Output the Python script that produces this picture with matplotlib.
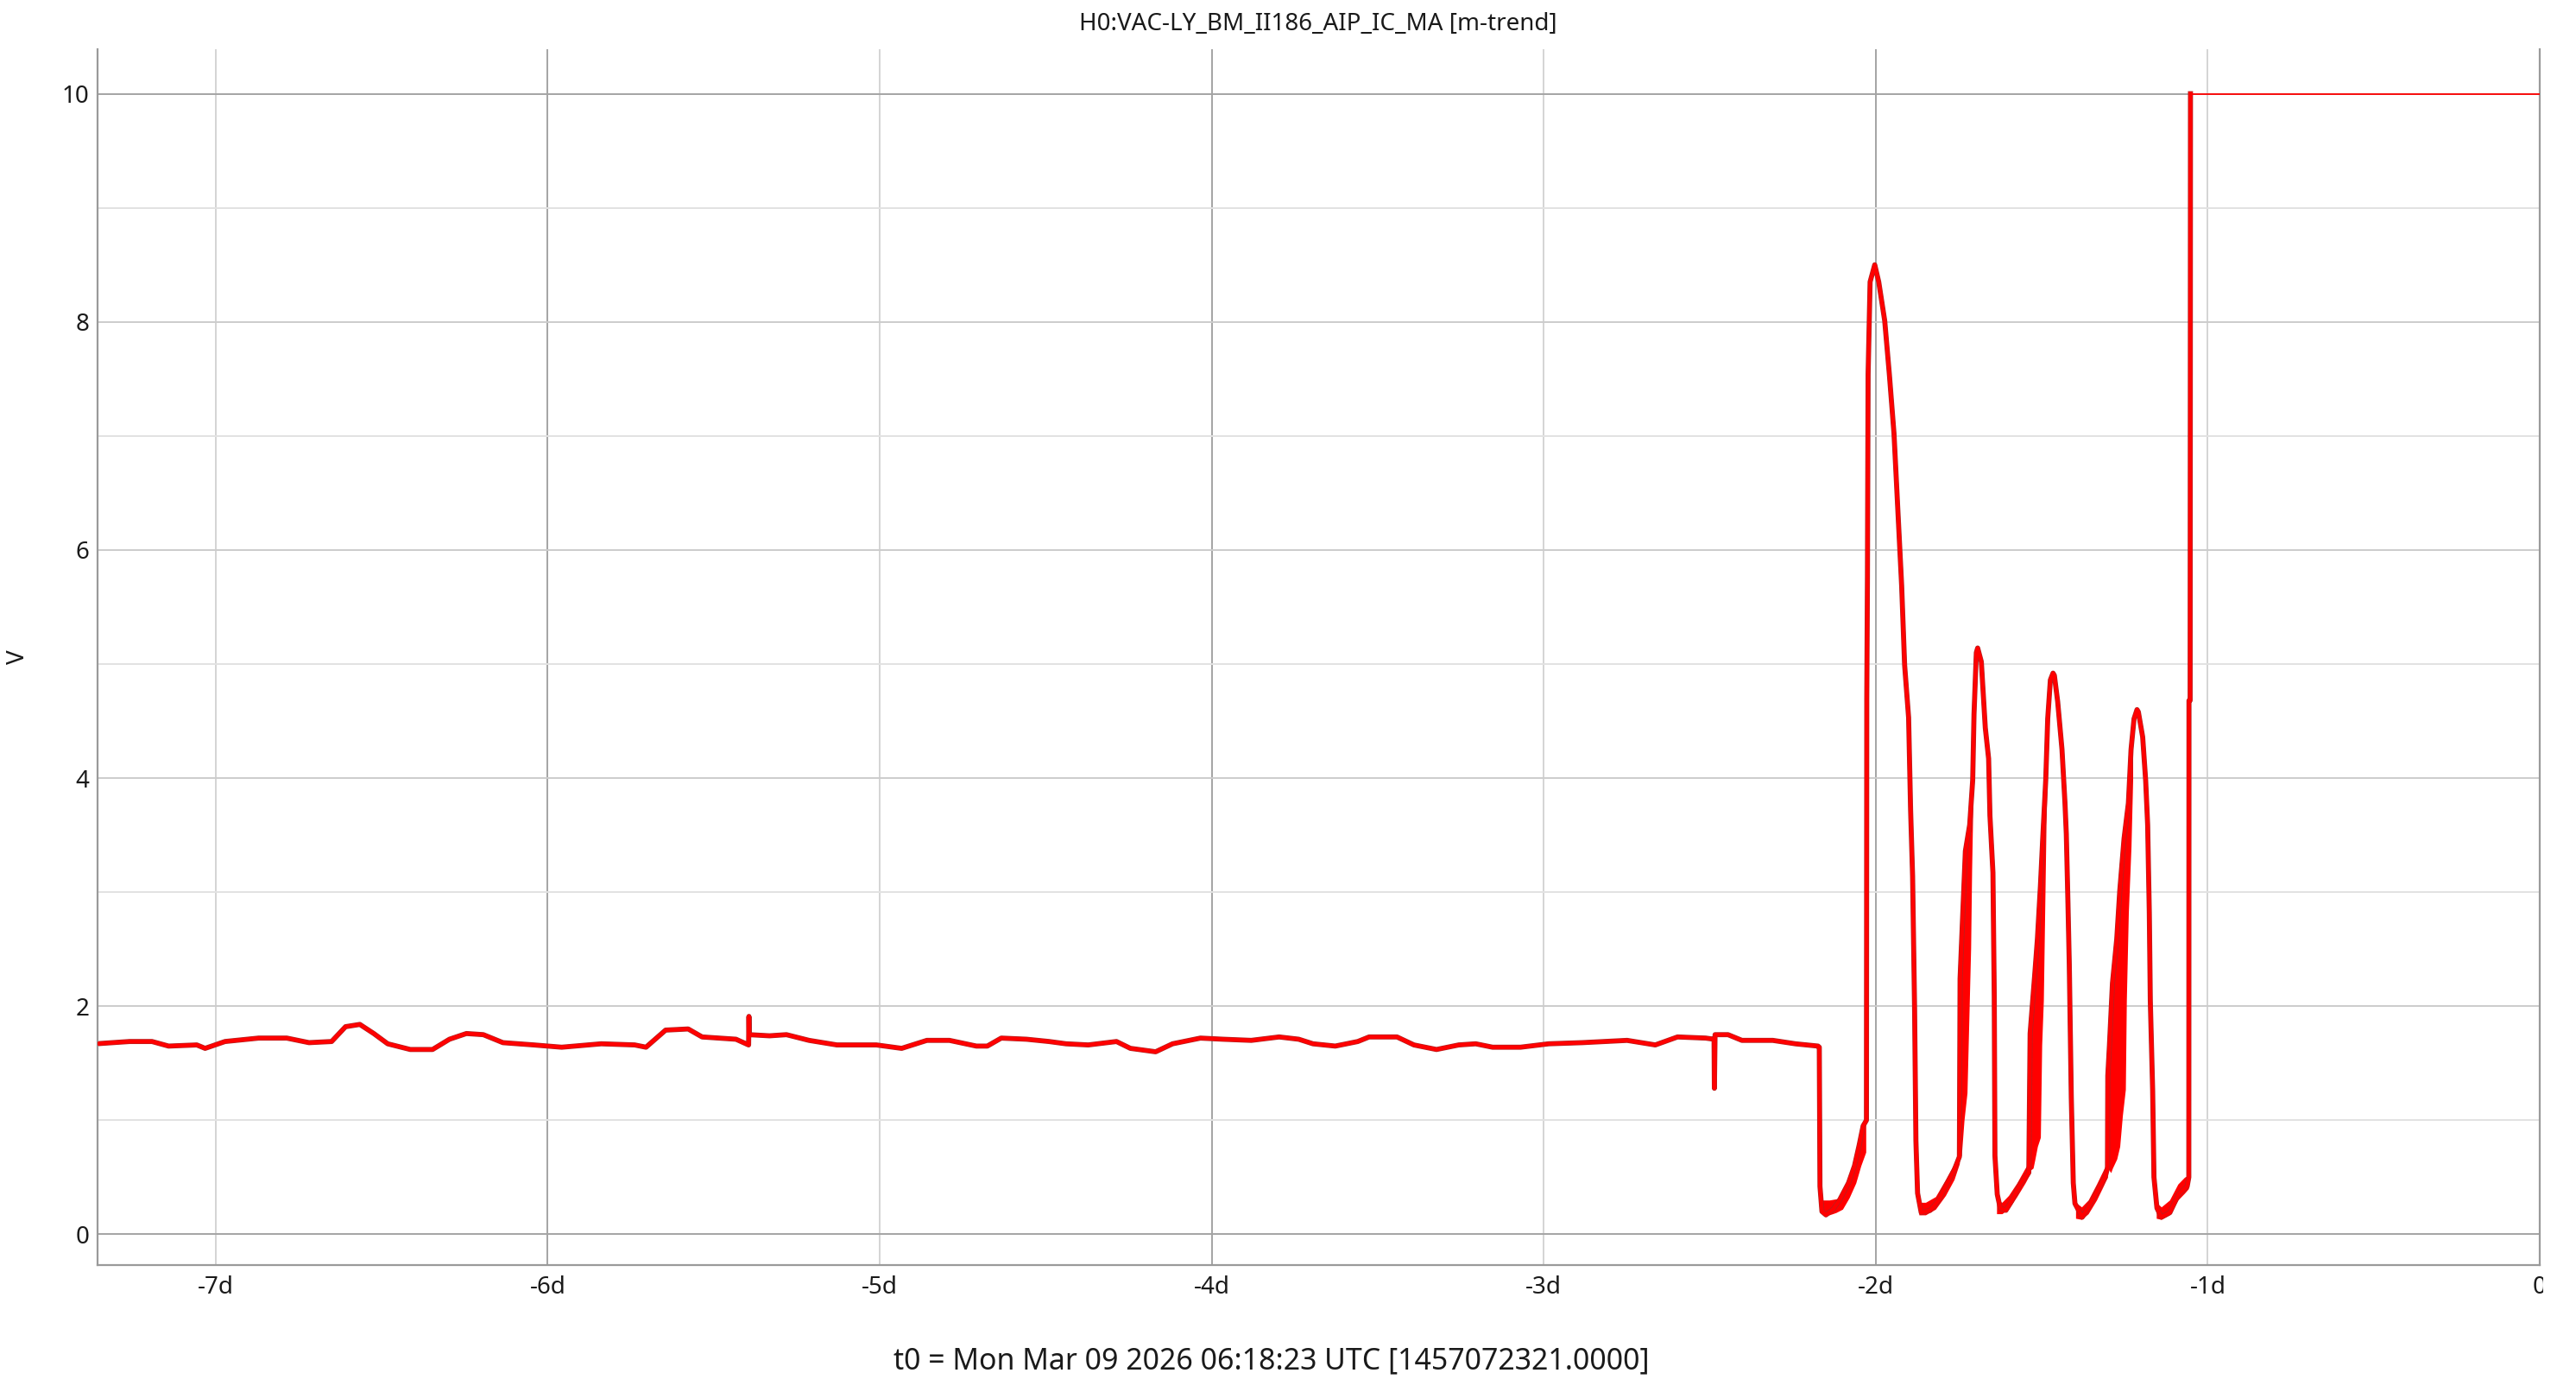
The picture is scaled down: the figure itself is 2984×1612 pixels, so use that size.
import matplotlib
matplotlib.use("Agg")
import matplotlib.pyplot as plt
from matplotlib.transforms import Bbox

plt.rcParams['font.family'] = ['Noto Sans', 'DejaVu Sans']

# ---------------- data (time in days relative to t0, value in V) ----------------
trace_t = [
    -7.361, -7.260, -7.192, -7.142, -7.057, -7.032, -6.972, -6.871, -6.786, -6.719,
    -6.651, -6.609, -6.566, -6.524, -6.482, -6.414, -6.347, -6.296, -6.245, -6.194,
    -6.135, -6.042, -5.958, -5.839, -5.738, -5.704, -5.645, -5.577, -5.535, -5.433,
    -5.395, -5.394, -5.393, -5.332, -5.281, -5.213, -5.129, -5.010, -4.934, -4.858,
    -4.790, -4.709, -4.676, -4.634, -4.558, -4.490, -4.439, -4.372, -4.287, -4.245,
    -4.169, -4.118, -4.034, -3.966, -3.881, -3.797, -3.738, -3.695, -3.628, -3.560,
    -3.526, -3.442, -3.391, -3.323, -3.256, -3.205, -3.154, -3.070, -2.985, -2.884,
    -2.749, -2.664, -2.597, -2.512, -2.487, -2.486, -2.484, -2.475, -2.445, -2.403,
    -2.310, -2.242, -2.174, -2.170,
    # first excursion
    -2.168, -2.162, -2.150, -2.128, -2.109, -2.082, -2.064, -2.050, -2.038, -2.028,
    -2.027, -2.025, -2.023, -2.017, -2.003, -1.991, -1.973, -1.959, -1.945, -1.932,
    -1.922, -1.913, -1.901, -1.895, -1.889, -1.883, -1.879, -1.874, -1.863, -1.836,
    -1.810, -1.790, -1.764, -1.748,
    # second
    -1.746, -1.730, -1.717, -1.708, -1.704, -1.697, -1.693, -1.682, -1.670, -1.660,
    -1.656, -1.647, -1.644, -1.643, -1.641, -1.634, -1.625, -1.608, -1.591, -1.565,
    -1.539,
    # third
    -1.535, -1.521, -1.513, -1.504, -1.497, -1.488, -1.482, -1.474, -1.466, -1.462,
    -1.452, -1.439, -1.430, -1.426, -1.421, -1.417, -1.411, -1.405, -1.400, -1.378,
    -1.357, -1.331, -1.309, -1.302,
    # fourth
    -1.301, -1.296, -1.287, -1.274, -1.265, -1.252, -1.239, -1.231, -1.222, -1.213,
    -1.209, -1.196, -1.187, -1.181, -1.176, -1.173, -1.166, -1.162, -1.153, -1.140,
    -1.114, -1.088, -1.062, -1.057, -1.0565, -1.053, -1.052,
]
trace_v = [
    1.67, 1.69, 1.69, 1.65, 1.66, 1.63, 1.69, 1.72, 1.72, 1.68,
    1.69, 1.82, 1.84, 1.76, 1.67, 1.62, 1.62, 1.71, 1.76, 1.75,
    1.68, 1.66, 1.64, 1.67, 1.66, 1.64, 1.79, 1.80, 1.73, 1.71,
    1.66, 1.91, 1.75, 1.74, 1.75, 1.70, 1.66, 1.66, 1.63, 1.70,
    1.70, 1.65, 1.65, 1.72, 1.71, 1.69, 1.67, 1.66, 1.69, 1.63,
    1.60, 1.67, 1.72, 1.71, 1.70, 1.73, 1.71, 1.67, 1.65, 1.69,
    1.73, 1.73, 1.66, 1.62, 1.66, 1.67, 1.64, 1.64, 1.67, 1.68,
    1.70, 1.66, 1.73, 1.72, 1.71, 1.28, 1.75, 1.75, 1.75, 1.70,
    1.70, 1.67, 1.65, 1.64,
    0.42, 0.20, 0.17, 0.22, 0.30, 0.45, 0.60, 0.78, 0.95, 1.00,
    4.70, 5.75, 7.54, 8.35, 8.50, 8.35, 8.01, 7.54, 7.02, 6.27,
    5.69, 4.99, 4.53, 3.72, 3.14, 1.98, 0.82, 0.36, 0.19, 0.21,
    0.30, 0.42, 0.56, 0.68,
    2.24, 3.36, 3.59, 3.98, 4.56, 5.10, 5.14, 5.02, 4.44, 4.17,
    3.67, 3.17, 2.36, 2.08, 0.69, 0.35, 0.23, 0.21, 0.29, 0.44,
    0.54,
    1.76, 2.28, 2.59, 3.05, 3.47, 3.98, 4.52, 4.86, 4.92, 4.90,
    4.67, 4.25, 3.78, 3.51, 2.90, 2.36, 1.20, 0.45, 0.27, 0.15,
    0.25, 0.39, 0.50, 0.58,
    1.39, 1.66, 2.20, 2.59, 3.01, 3.47, 3.78, 4.25, 4.52, 4.60,
    4.58, 4.36, 3.98, 3.59, 2.82, 2.05, 1.27, 0.50, 0.23, 0.15,
    0.19, 0.35, 0.42, 0.50, 4.68, 4.68, 10.0,
]

# saturated part of the trace
sat_t = [-1.052, 0.0]
sat_v = [10.0, 10.0]

# min / max envelopes where the trace oscillates quickly
band1_t = [-2.160, -2.140, -2.120, -2.100, -2.080, -2.060, -2.045, -2.030]
band1_lo = [0.17, 0.17, 0.19, 0.22, 0.32, 0.45, 0.60, 0.72]
band1_hi = [0.30, 0.30, 0.31, 0.33, 0.50, 0.65, 0.85, 1.00]

band2_t = [-1.748, -1.742, -1.734, -1.725, -1.719, -1.714, -1.711, -1.706]
band2_lo = [0.68, 0.69, 1.00, 1.24, 1.93, 2.51, 3.20, 3.98]
band2_hi = [2.24, 2.70, 3.20, 3.45, 3.55, 3.62, 3.80, 4.20]

band3_t = [-1.535, -1.526, -1.521, -1.513, -1.504, -1.500, -1.495, -1.491, -1.487, -1.482]
band3_lo = [0.56, 0.58, 0.65, 0.77, 0.85, 1.66, 2.05, 2.82, 3.59, 4.17]
band3_hi = [1.76, 2.10, 2.28, 2.59, 3.05, 3.25, 3.50, 3.75, 3.98, 4.52]

band4_t = [-1.301, -1.292, -1.287, -1.274, -1.265, -1.257, -1.248, -1.245, -1.239, -1.231, -1.226]
band4_lo = [0.58, 0.54, 0.58, 0.66, 0.77, 1.04, 1.27, 2.05, 2.82, 3.40, 3.98]
band4_hi = [1.39, 1.90, 2.20, 2.59, 3.01, 3.25, 3.55, 3.65, 3.78, 4.25, 4.40]

# troughs between excursions (min / max)
trough1_t = [-1.870, -1.850, -1.820, -1.790, -1.764, -1.748]
trough1_lo = [0.17, 0.17, 0.22, 0.34, 0.48, 0.62]
trough1_hi = [0.28, 0.28, 0.33, 0.48, 0.62, 0.74]

trough2_t = [-1.636, -1.620, -1.600, -1.575, -1.550, -1.537]
trough2_lo = [0.18, 0.18, 0.22, 0.33, 0.45, 0.52]
trough2_hi = [0.30, 0.28, 0.34, 0.45, 0.58, 0.64]

trough3_t = [-1.398, -1.380, -1.360, -1.335, -1.315, -1.302]
trough3_lo = [0.14, 0.13, 0.18, 0.30, 0.42, 0.50]
trough3_hi = [0.28, 0.24, 0.30, 0.44, 0.56, 0.64]

trough4_t = [-1.155, -1.140, -1.115, -1.090, -1.070, -1.058]
trough4_lo = [0.14, 0.13, 0.17, 0.30, 0.36, 0.40]
trough4_hi = [0.28, 0.24, 0.30, 0.44, 0.50, 0.52]

x_ticks = [-7, -6, -5, -4, -3, -2, -1, 0]
x_labels = ['-7d', '-6d', '-5d', '-4d', '-3d', '-2d', '-1d', '0']
y_ticks = [0, 2, 4, 6, 8, 10]
y_labels = ['0', '2', '4', '6', '8', '10']
y_grid = [0, 1, 2, 3, 4, 5, 6, 7, 8, 9, 10]

title = 'H0:VAC-LY_BM_II186_AIP_IC_MA [m-trend]'
t0_text = 't0 = Mon Mar 09 2026 06:18:23 UTC [1457072321.0000]'

# ---------------- figure ----------------
W, H = 2984, 1612
fig = plt.figure(figsize=(W / 100, H / 100), dpi=100)
fig.patch.set_facecolor('white')
ax = fig.add_axes([113 / W, 1 - 1465 / H, (2942 - 113) / W, (1465 - 57) / H])
ax.set_facecolor('white')

# grid
for v in x_ticks:
    ax.axvline(v, color='#a4a4a4' if v % 2 == 0 else '#d4d4d4', lw=1.4, zorder=0)
for v in y_grid:
    if v % 10 == 0:
        c = '#a4a4a4'
    elif v % 2 == 0:
        c = '#cccccc'
    else:
        c = '#e2e2e2'
    ax.axhline(v, color=c, lw=1.4, zorder=0)

red = '#ff0000'
bands = [
    (band1_t, band1_lo, band1_hi), (band2_t, band2_lo, band2_hi),
    (band3_t, band3_lo, band3_hi), (band4_t, band4_lo, band4_hi),
    (trough1_t, trough1_lo, trough1_hi), (trough2_t, trough2_lo, trough2_hi),
    (trough3_t, trough3_lo, trough3_hi), (trough4_t, trough4_lo, trough4_hi),
]
for bt, blo, bhi in bands:
    ax.fill_between(bt, blo, bhi, color=red, lw=0, zorder=2)

ax.plot(trace_t, trace_v, color='#b22222', lw=4.2, zorder=2)
ax.plot(trace_t, trace_v, color=red, lw=3.2, zorder=3)
ax.plot(sat_t, sat_v, color=red, lw=1.3, zorder=3)

ax.set_xlim(-7.356, 0.0)
ax.set_ylim(-0.27, 10.39)
ax.set_xticks(x_ticks)
ax.set_xticklabels(x_labels)
ax.set_yticks(y_ticks)
ax.set_yticklabels(y_labels)
ax.tick_params(axis='both', length=0, labelsize=20, colors='#1a1a1a')
ax.tick_params(axis='x', pad=9)
ax.tick_params(axis='y', pad=7)

for s in ['left', 'bottom', 'right']:
    ax.spines[s].set_color('#9a9a9a')
    ax.spines[s].set_linewidth(1.6)
ax.spines['top'].set_visible(False)

# clip the last tick label at the widget edge like the original
clipbox = Bbox.from_extents(0, 0, 2946, H)
for lab in ax.get_xticklabels():
    if lab.get_text() == '0':
        lab.set_clip_box(clipbox)
        lab.set_clip_on(True)

fig.text(1527 / W, 1 - 28 / H, title, ha='center', va='center', fontsize=20, color='#1a1a1a')
fig.text(21 / W, 1 - 761 / H, 'V', rotation=90, ha='center', va='center', fontsize=20, color='#1a1a1a')
fig.text(1473 / W, 1 - 1576 / H, t0_text, ha='center', va='center', fontsize=24.4, color='#1a1a1a')

fig.savefig('out.png', dpi=100, facecolor='white')
